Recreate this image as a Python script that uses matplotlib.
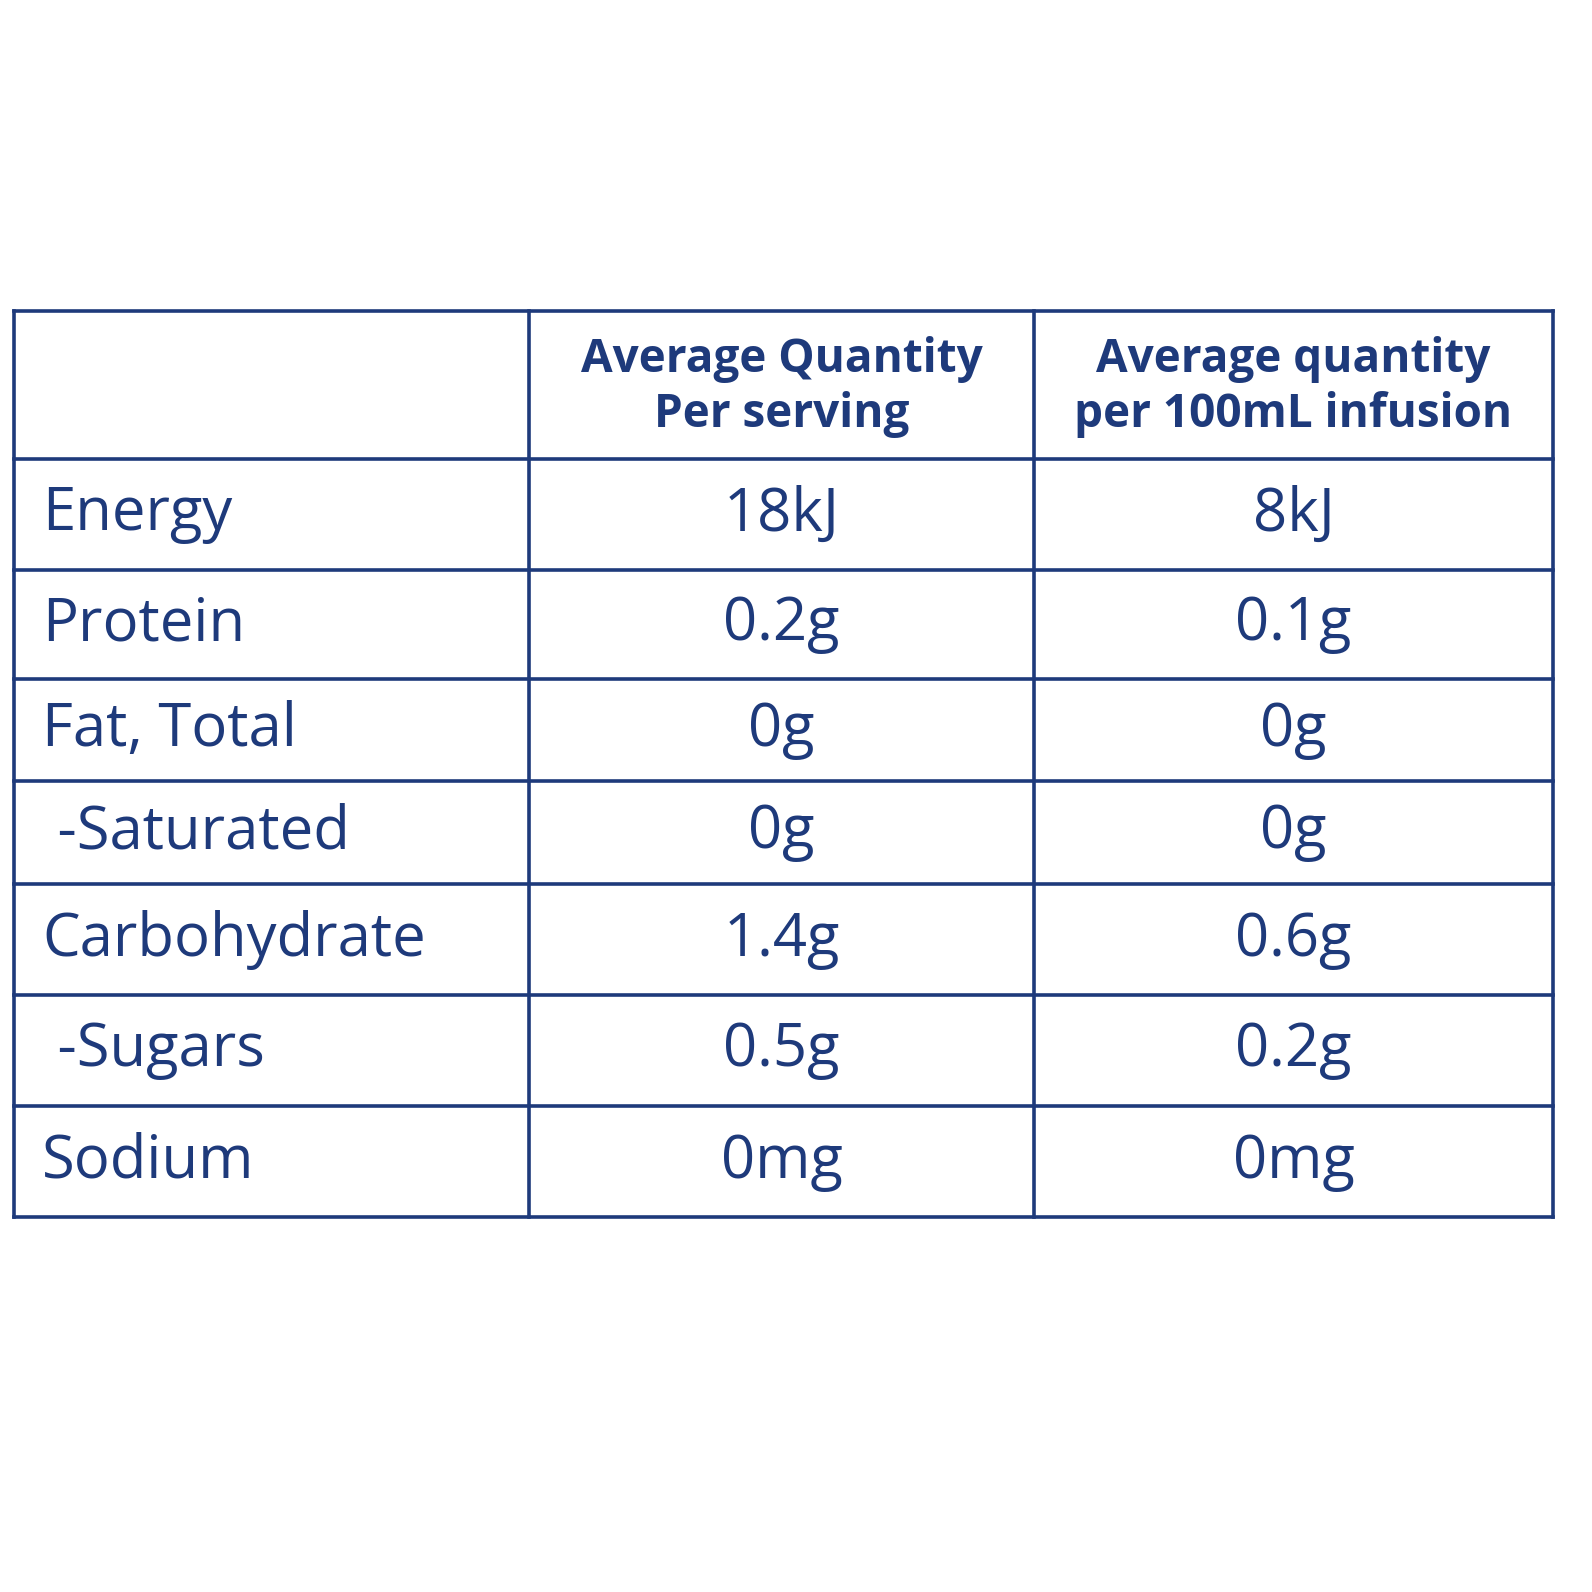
import matplotlib
matplotlib.use("Agg")
import matplotlib.pyplot as plt

headers = ["", "Average Quantity\nPer serving", "Average quantity\nper 100mL infusion"]
nutrients = ["Energy", "Protein", "Fat, Total", " -Saturated", "Carbohydrate", " -Sugars", "Sodium"]
per_serving = ["18kJ", "0.2g", "0g", "0g", "1.4g", "0.5g", "0mg"]
per_100ml = ["8kJ", "0.1g", "0g", "0g", "0.6g", "0.2g", "0mg"]

color = "#1e3a7b"
col_x = [14, 529, 1034, 1553]
row_y = [311, 459, 570, 679, 781, 884, 995, 1106, 1217]

fig = plt.figure(figsize=(15.92, 15.92), dpi=100)
ax = fig.add_axes([0, 0, 1, 1])
ax.set_xlim(0, 1592)
ax.set_ylim(1592, 0)
ax.axis("off")

for x in col_x:
    ax.plot([x, x], [row_y[0], row_y[-1]], color=color, lw=2.6, solid_capstyle="projecting")
for y in row_y:
    ax.plot([col_x[0], col_x[-1]], [y, y], color=color, lw=2.6, solid_capstyle="projecting")

font = "Open Sans"
for j, h in enumerate(headers):
    if h:
        cx = (col_x[j] + col_x[j + 1]) / 2
        ax.text(cx, (row_y[0] + row_y[1]) / 2 + 2, h, ha="center", va="center", color=color,
                fontsize=33, fontweight="bold", family=font, linespacing=1.2)

for i in range(len(nutrients)):
    cy = (row_y[i + 1] + row_y[i + 2]) / 2
    ax.text(col_x[0] + 28, cy, nutrients[i], ha="left", va="center", color=color, fontsize=43, family=font)
    ax.text((col_x[1] + col_x[2]) / 2, cy, per_serving[i], ha="center", va="center", color=color, fontsize=43, family=font)
    ax.text((col_x[2] + col_x[3]) / 2, cy, per_100ml[i], ha="center", va="center", color=color, fontsize=43, family=font)

fig.savefig("out.png", dpi=100, facecolor="white")
